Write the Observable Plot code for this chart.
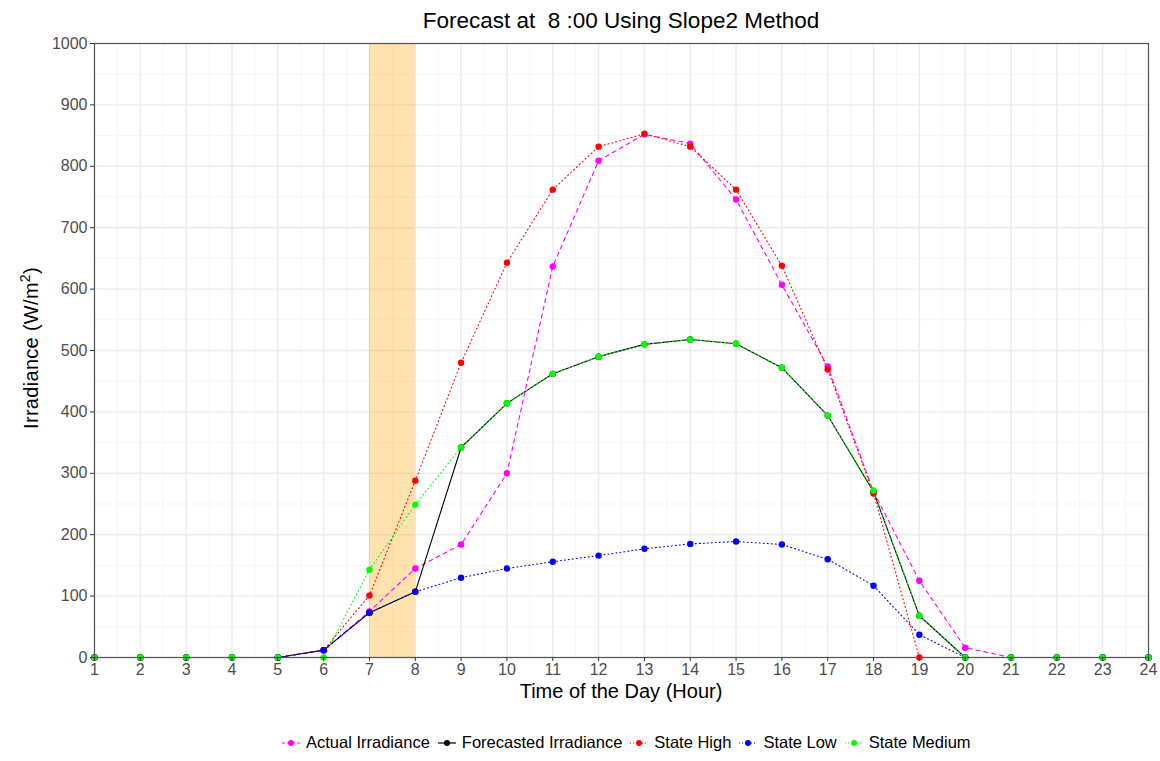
<!DOCTYPE html>
<html>
<head>
<meta charset="utf-8">
<script src="https://cdn.jsdelivr.net/npm/d3@7"></script>
<script src="https://cdn.jsdelivr.net/npm/@observablehq/plot@0.6"></script>
<style>
  body { margin: 0; background: #fff; font-family: "Liberation Sans", Arial, sans-serif; }
  #wrap { position: relative; width: 1160px; height: 761px; overflow: hidden; }
  #chart { position: absolute; left: 0; top: 0; }
  .title { position: absolute; left: 94px; width: 1054px; top: 8px; text-align: center; font-size: 22.5px; color: #000; white-space: pre; }
  .xtitle { position: absolute; left: 94px; width: 1054px; top: 680px; text-align: center; font-size: 20px; color: #000; }
  .ytitle { position: absolute; left: 30px; top: 348px; transform: translate(-50%, -50%) rotate(-90deg); font-size: 20px; color: #000; white-space: nowrap; letter-spacing: 0.3px; }
  .ytitle sup { font-size: 14px; }
  .legend { position: absolute; left: 281px; top: 733px; display: flex; align-items: center; font-size: 16.5px; color: #000; white-space: nowrap; }
  .legend .item { display: flex; align-items: center; margin-right: 7px; }
  .legend svg { margin-right: 5px; }
</style>
</head>
<body>
<div id="wrap">
  <div id="chart"></div>
  <div class="title">Forecast at  8 :00 Using Slope2 Method</div>
  <div class="xtitle">Time of the Day (Hour)</div>
  <div class="ytitle">Irradiance (W/m<sup>2</sup>)</div>
  <div class="legend" id="legend"></div>
</div>
<script>
// ---- data ----
const hours = [1,2,3,4,5,6,7,8,9,10,11,12,13,14,15,16,17,18,19,20,21,22,23,24];
const actual   = [0,0,0,0,0,12,75,145,184,300,637,809,852,837,746,607,474,270,125,16,0,0,0,0];
const forecast = [0,0,0,0,0,12,73,107,342,414,462,490,510,518,511,472,394,270,68,0,0,0,0,0];
const stateHigh   = [0,0,0,0,0,12,101,288,480,643,762,832,853,832,762,638,469,267,0,0,0,0,0,0];
const stateLow    = [0,0,0,0,0,12,73,107,130,145,156,166,177,185,189,184,160,117,37,0,0,0,0,0];
const stateMedium = [0,0,0,0,0,0,143,249,342,414,462,490,510,518,511,472,394,272,68,0,0,0,0,0];
const seriesNames = ["Actual Irradiance","Forecasted Irradiance","State High","State Low","State Medium"];
const seriesValues = [actual, forecast, stateHigh, stateLow, stateMedium];
const seriesColors = ["#FF00FF","#000000","#FF0000","#0000FF","#00FF00"];
const seriesDash = ["4,4", null, "1,3", "1,3", "1,3"];
const shadeWindow = [{start: 7, end: 8}];
const xTicks = [1,2,3,4,5,6,7,8,9,10,11,12,13,14,15,16,17,18,19,20,21,22,23,24];
const yTicks = [0,100,200,300,400,500,600,700,800,900,1000];
const xMinor = [1.5,2.5,3.5,4.5,5.5,6.5,7.5,8.5,9.5,10.5,11.5,12.5,13.5,14.5,15.5,16.5,17.5,18.5,19.5,20.5,21.5,22.5,23.5];
const yMinor = [50,150,250,350,450,550,650,750,850,950];

const tables = seriesNames.map((name, i) => hours.map((h, j) => ({hour: h, value: seriesValues[i][j], series: name})));

const lineMarks = tables.map((t, i) => Plot.line(t, {
  x: "hour", y: "value", stroke: seriesColors[i], strokeWidth: 1.1,
  strokeDasharray: seriesDash[i] || undefined
}));
const dotMarks = tables.map((t, i) => Plot.dot(t, {
  x: "hour", y: "value", fill: seriesColors[i], r: 3.2
}));

const chart = Plot.plot({
  width: 1160, height: 761,
  marginTop: 43, marginBottom: 104, marginLeft: 94, marginRight: 12,
  style: {fontFamily: "'Liberation Sans', Arial, sans-serif", fontSize: "16px", background: "#fff"},
  x: {domain: [1, 24]},
  y: {domain: [0, 1000]},
  marks: [
    Plot.gridX(xMinor, {stroke: "#F2F2F2", strokeOpacity: 1, strokeWidth: 0.8}),
    Plot.gridY(yMinor, {stroke: "#F2F2F2", strokeOpacity: 1, strokeWidth: 0.8}),
    Plot.gridX(xTicks, {stroke: "#EBEBEB", strokeOpacity: 1, strokeWidth: 1.4}),
    Plot.gridY(yTicks, {stroke: "#EBEBEB", strokeOpacity: 1, strokeWidth: 1.4}),
    Plot.rect(shadeWindow, {x1: "start", x2: "end", y1: () => 0, y2: () => 1000, fill: "orange", fillOpacity: 0.32}),
    ...lineMarks,
    ...dotMarks,
    Plot.frame({stroke: "#555", strokeWidth: 1.2}),
    Plot.axisX(xTicks, {tickSize: 4, tickPadding: 2, fontSize: 16, stroke: "#333", fill: "#4D4D4D", label: null, tickFormat: d => String(d)}),
    Plot.axisY(yTicks, {tickSize: 4, tickPadding: 3, fontSize: 16, stroke: "#333", fill: "#4D4D4D", label: null, tickFormat: d => String(d)})
  ]
});
document.getElementById("chart").appendChild(chart);

// legend
const legend = document.getElementById("legend");
seriesNames.forEach((name, i) => {
  const item = document.createElement("div");
  item.className = "item";
  const dash = seriesDash[i] ? `stroke-dasharray="${seriesDash[i] === "4,4" ? "3,2" : "1,2"}"` : "";
  item.innerHTML = `<svg width="20" height="14"><line x1="1" x2="19" y1="7" y2="7" stroke="${seriesColors[i]}" stroke-width="1.2" ${dash}/><circle cx="10" cy="7" r="3" fill="${seriesColors[i]}"/></svg><span>${name}</span>`;
  legend.appendChild(item);
});
</script>
</body>
</html>
